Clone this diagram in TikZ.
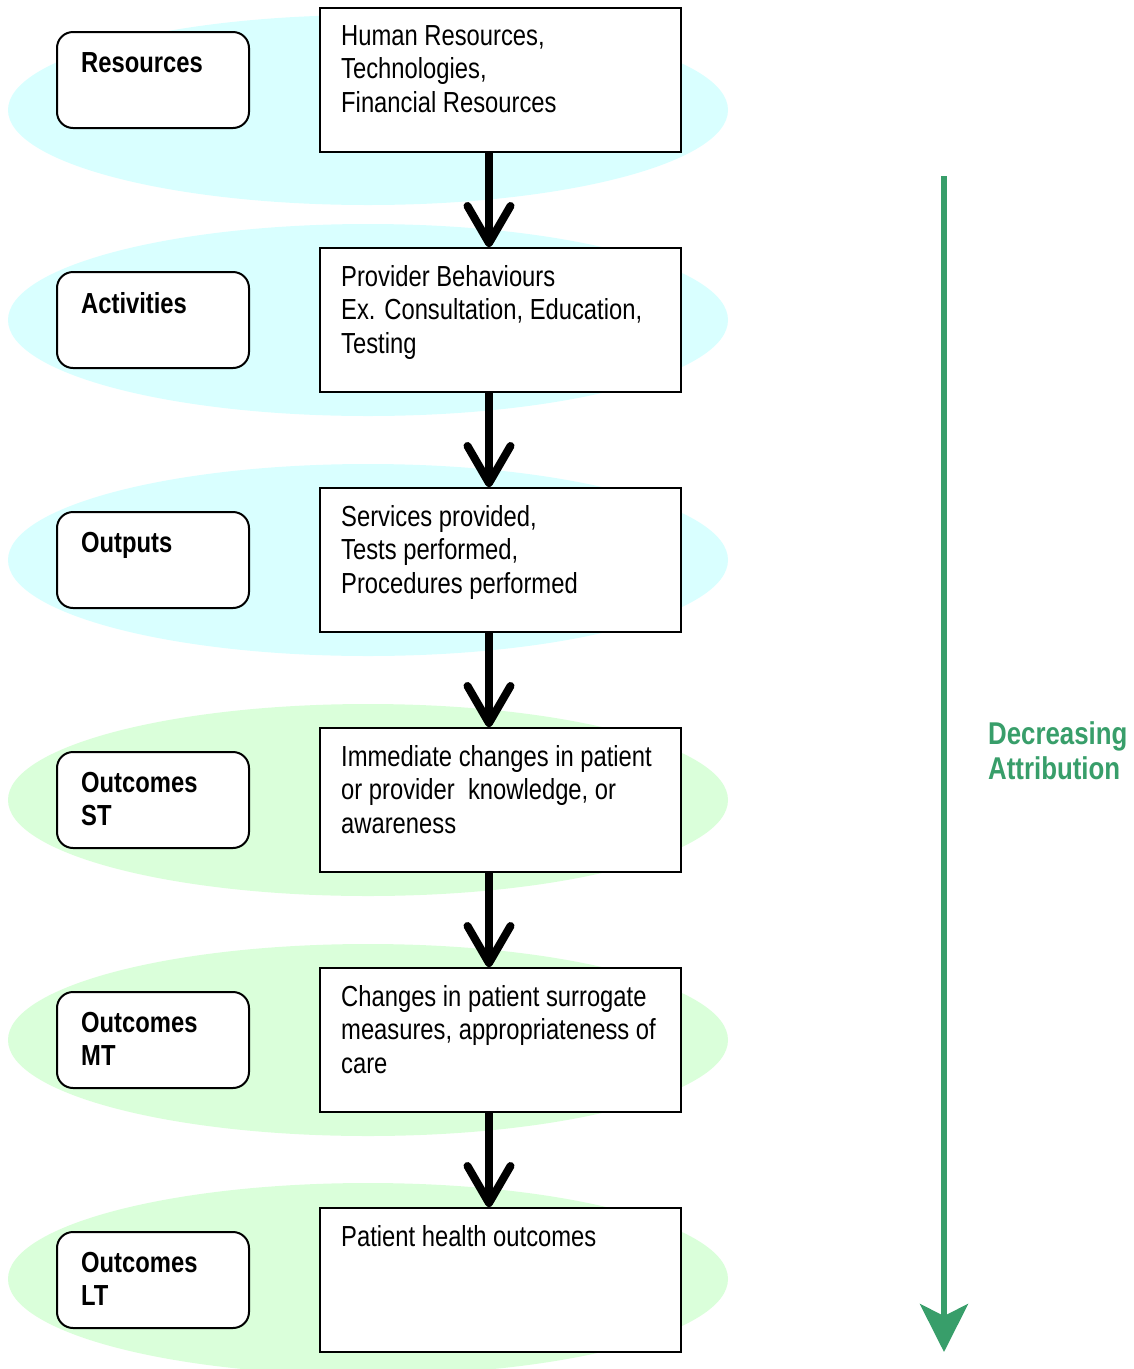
\documentclass[tikz,border=0pt]{standalone}
\usepackage{fontspec}
\setmainfont{Liberation Sans}[FakeStretch=0.82]
\usepackage{tikz}
\usetikzlibrary{arrows.meta}
\definecolor{paleCyan}{RGB}{217,255,255}
\definecolor{paleGreen}{RGB}{218,255,218}
\definecolor{attrGreen}{RGB}{56,158,106}

\begin{document}
\begin{tikzpicture}[x=1pt,y=-1pt,
    lvlbox/.style={draw,line width=2pt,rounded corners=16pt,fill=white,minimum width=192pt,minimum height=96pt,inner sep=0pt},
    descbox/.style={draw,line width=2pt,fill=white,minimum width=361pt,minimum height=144pt,inner sep=0pt},
    lvltext/.style={anchor=north west,inner sep=0pt,align=left,font=\fontsize{29}{33}\selectfont\bfseries},
    desctext/.style={anchor=north west,inner sep=0pt,align=left,font=\fontsize{29}{33.5}\selectfont},
    flow/.style={line width=8pt,-{Straight Barb[length=37pt,width=43pt,round]}}]
        \useasboundingbox (0,0) rectangle (1134,1369);
        % bands
        \fill [paleCyan] (368,110) ellipse (360 and 95);
        \fill [paleCyan] (368,320) ellipse (360 and 96);
        \fill [paleCyan] (368,560) ellipse (360 and 96);
        \fill [paleGreen] (368,800) ellipse (360 and 96);
        \fill [paleGreen] (368,1040) ellipse (360 and 96);
        \fill [paleGreen] (368,1279) ellipse (360 and 96);

        % level names
        \node [lvlbox] (res) at (153,80) {};
        \node [lvlbox] (act) at (153,320) {};
        \node [lvlbox] (outp) at (153,560) {};
        \node [lvlbox] (ost) at (153,800) {};
        \node [lvlbox] (omt) at (153,1040) {};
        \node [lvlbox] (olt) at (153,1280) {};
        \node [lvltext] (res-t) at ([shift={(25,21)}]res.north west) {Resources};
        \node [lvltext] (act-t) at ([shift={(25,21)}]act.north west) {Activities};
        \node [lvltext] (outp-t) at ([shift={(25,21)}]outp.north west) {Outputs};
        \node [lvltext] (ost-t) at ([shift={(25,21)}]ost.north west) {Outcomes\\ST};
        \node [lvltext] (omt-t) at ([shift={(25,21)}]omt.north west) {Outcomes\\MT};
        \node [lvltext] (olt-t) at ([shift={(25,21)}]olt.north west) {Outcomes\\LT};

        % descriptions
        \node [descbox] (d1) at (500.5,80) {};
        \node [descbox] (d2) at (500.5,320) {};
        \node [descbox] (d3) at (500.5,560) {};
        \node [descbox] (d4) at (500.5,800) {};
        \node [descbox] (d5) at (500.5,1040) {};
        \node [descbox] (d6) at (500.5,1280) {};
        \node [desctext] (d1-t) at ([shift={(22,18)}]d1.north west) {Human Resources,\\Technologies,\\Financial Resources};
        \node [desctext] (d2-t) at ([shift={(22,18)}]d2.north west) {Provider Behaviours\\Ex. Consultation, Education,\\Testing};
        \node [desctext] (d3-t) at ([shift={(22,18)}]d3.north west) {Services provided,\\Tests performed,\\Procedures performed};
        \node [desctext] (d4-t) at ([shift={(22,18)}]d4.north west) {Immediate changes in patient\\or provider~ knowledge, or\\awareness};
        \node [desctext] (d5-t) at ([shift={(22,18)}]d5.north west) {Changes in patient surrogate\\measures, appropriateness of\\care};
        \node [desctext] (d6-t) at ([shift={(22,18)}]d6.north west) {Patient health outcomes};

        \draw [flow] ([xshift=-11.5pt]d1.south) -- ([xshift=-11.5pt]d2.north);
        \draw [flow] ([xshift=-11.5pt]d2.south) -- ([xshift=-11.5pt]d3.north);
        \draw [flow] ([xshift=-11.5pt]d3.south) -- ([xshift=-11.5pt]d4.north);
        \draw [flow] ([xshift=-11.5pt]d4.south) -- ([xshift=-11.5pt]d5.north);
        \draw [flow] ([xshift=-11.5pt]d5.south) -- ([xshift=-11.5pt]d6.north);

        % attribution
        \coordinate (attr-top) at (944,176);
        \coordinate (attr-end) at (944,1352);
        \draw [attrGreen,line width=6pt,-{Stealth[length=48pt,width=48pt,inset=12pt]}] (attr-top) -- (attr-end);
        \node [anchor=north west,inner sep=0pt,align=left,text=attrGreen,font=\fontsize{31.5}{35}\selectfont\bfseries] (attr) at (988,721) {Decreasing\\Attribution};
\end{tikzpicture}
\end{document}
